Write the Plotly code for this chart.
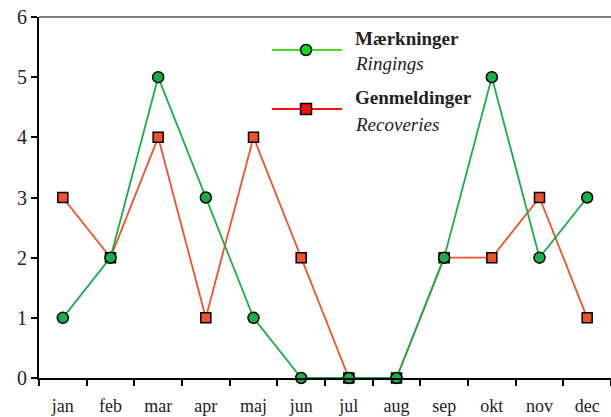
import plotly.graph_objects as go

months = ["jan", "feb", "mar", "apr", "maj", "jun", "jul", "aug", "sep", "okt", "nov", "dec"]
ringings = [1, 2, 5, 3, 1, 0, 0, 0, 2, 5, 2, 3]
recoveries = [3, 2, 4, 1, 4, 2, 0, 0, 2, 2, 3, 1]
y_ticks = [0, 1, 2, 3, 4, 5, 6]

FONT = "Liberation Serif"
GREEN = "#1aae4a"
RED = "#f0522a"

fig = go.Figure()
fig.add_trace(go.Scatter(
    x=months, y=recoveries, mode="lines+markers", name="Genmeldinger",
    line=dict(color=RED, width=1.8),
    marker=dict(symbol="square", size=10, color=RED, line=dict(color="black", width=1.5)),
    cliponaxis=False, showlegend=False))
fig.add_trace(go.Scatter(
    x=months, y=ringings, mode="lines+markers", name="Mærkninger",
    line=dict(color=GREEN, width=1.8),
    marker=dict(symbol="circle", size=11, color=GREEN, line=dict(color="black", width=1.5)),
    cliponaxis=False, showlegend=False))

W, H = 611, 417
L, R, T, B = 39, 0, 17, 39

def px(x):
    return (x - L) / (W - L - R)

def py(y):
    return 1 - (y - T) / (H - T - B)

shapes = []
# top frame line
shapes.append(dict(type="line", xref="paper", yref="paper", x0=0, x1=1, y0=1, y1=1,
                   line=dict(color="#555555", width=1.5)))
# legend symbols
for yy, col, sym in [(50, "#44dd22", "circle"), (109, "#ff1111", "square")]:
    shapes.append(dict(type="line", xref="paper", yref="paper", x0=px(272), x1=px(342),
                       y0=py(yy), y1=py(yy), line=dict(color=col, width=2)))
    s = 5.5
    shapes.append(dict(type="circle" if sym == "circle" else "rect", xref="paper", yref="paper",
                       x0=px(306 - s), x1=px(306 + s), y0=py(yy + s), y1=py(yy - s),
                       fillcolor="#11dd11" if sym == "circle" else "#ee1111",
                       line=dict(color="black", width=1.5)))

annotations = []
for txt, yy in [("<b>Mærkninger</b>", 38), ("<i>Ringings</i>", 63),
                ("<b>Genmeldinger</b>", 98), ("<i>Recoveries</i>", 124)]:
    annotations.append(dict(text=txt, xref="paper", yref="paper", x=px(353), y=py(yy),
                            xanchor="left", yanchor="middle", showarrow=False,
                            font=dict(family=FONT, size=19, color="#222222")))

fig.update_layout(
    width=W, height=H,
    margin=dict(l=L, r=R, t=T, b=B, pad=0),
    plot_bgcolor="white", paper_bgcolor="white",
    font=dict(family=FONT, size=16, color="#222222"),
    shapes=shapes, annotations=annotations,
    xaxis=dict(type="category", categoryorder="array", categoryarray=months,
               range=[-0.5, 11.5], showgrid=False, zeroline=False, automargin=False,
               showline=True, linecolor="black", linewidth=2,
               ticks="outside", tickson="boundaries", ticklen=6, tickwidth=1.5, tickcolor="black",
               ticklabelstandoff=10,
               tickfont=dict(family=FONT, size=18, color="#222222")),
    yaxis=dict(range=[0, 6], tickvals=y_ticks, showgrid=False, zeroline=False, automargin=False,
               showline=True, linecolor="black", linewidth=2,
               ticks="outside", ticklen=6, tickwidth=1.5, tickcolor="black",
               tickfont=dict(family=FONT, size=20, color="#222222")),
)

fig.write_html("out.html", config={"displayModeBar": False},
               post_script="document.body.style.margin='0';document.body.style.overflow='hidden';")
